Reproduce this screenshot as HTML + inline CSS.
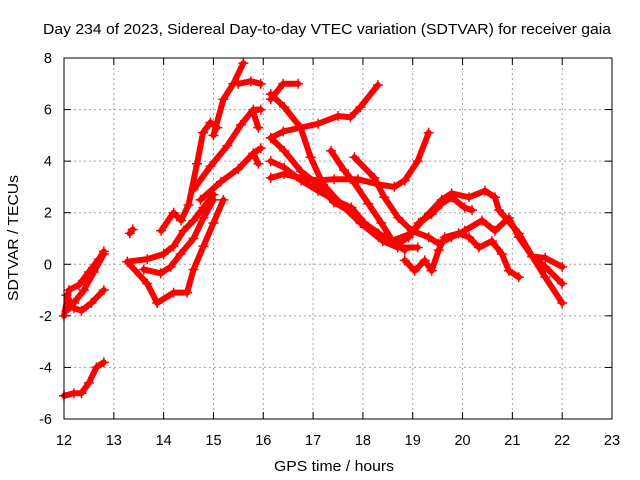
<!DOCTYPE html>
<html><head><meta charset="utf-8"><style>
body{margin:0;background:#fff}
svg{display:block;font-family:"Liberation Sans",sans-serif}
</style></head><body>
<svg id="chart" width="640" height="480">
<text x="327" y="34" font-size="15" text-anchor="middle" textLength="568" lengthAdjust="spacingAndGlyphs">Day 234 of 2023, Sidereal Day-to-day VTEC variation (SDTVAR) for receiver gaia</text>
<text x="334" y="471" font-size="15" text-anchor="middle" textLength="120" lengthAdjust="spacingAndGlyphs">GPS time / hours</text>
<text transform="translate(18,238) rotate(-90)" font-size="15" text-anchor="middle" textLength="126" lengthAdjust="spacingAndGlyphs">SDTVAR / TECUs</text>
<g id="grid"></g>
<g id="ticks"></g>
<g id="marks"></g>
<rect x="64" y="58" width="548" height="361" fill="none" stroke="#000" stroke-width="1"/>
</svg>
<script>
const xTicks=[12,13,14,15,16,17,18,19,20,21,22,23];
const yTicks=[-6,-4,-2,0,2,4,6,8];
const s1=[[12.0,-5.1],[12.2,-5.0],[12.35,-5.0],[12.5,-4.6],[12.65,-4.0],[12.8,-3.8]];
const s2=[[12.05,-1.8],[12.2,-1.5],[12.4,-1.0],[12.6,-0.3],[12.8,0.4]];
const s3=[[12.05,-1.2],[12.2,-1.7],[12.35,-1.8],[12.55,-1.5],[12.8,-1.0]];
const s4=[[12.0,-2.0],[12.1,-1.0],[12.3,-0.8],[12.5,-0.3],[12.7,0.2],[12.8,0.5]];
const s5=[[13.32,1.2],[13.38,1.35]];
const s6=[[13.95,1.3],[14.2,2.0],[14.35,1.7],[14.5,2.3],[14.67,3.9],[14.79,5.1],[14.94,5.5],[15.08,5.3]];
const s7=[[15.0,5.0],[15.2,6.4],[15.4,7.0],[15.6,7.8]];
const s8=[[15.5,7.0],[15.75,7.1],[15.95,7.0]];
const s9=[[14.6,2.9],[14.94,3.8],[15.28,4.6],[15.55,5.4],[15.8,6.0],[15.95,6.0]];
const s10=[[15.8,5.9],[15.9,5.3]];
const s11=[[14.74,2.5],[15.15,3.2],[15.5,3.7],[15.8,4.3],[15.95,4.5]];
const s12=[[15.8,4.3],[15.9,3.9]];
const s13=[[13.27,0.1],[13.67,-0.75],[13.87,-1.5],[14.2,-1.1],[14.47,-1.1],[14.6,-0.2],[14.8,0.7],[15.0,1.6],[15.2,2.5]];
const s14=[[13.27,0.1],[13.67,0.2],[14.0,0.4],[14.2,0.7],[14.4,1.3],[14.6,1.7],[14.8,2.2],[15.0,2.7]];
const s15=[[13.6,-0.2],[13.94,-0.35],[14.14,-0.1],[14.34,0.4],[14.6,1.0],[14.8,1.8],[15.0,2.5]];
const s16=[[16.15,6.4],[16.4,7.0],[16.7,7.0]];
const s17=[[16.15,6.6],[16.42,6.1],[16.75,5.3],[16.95,4.15],[17.2,3.1],[17.55,2.35],[17.95,1.6],[18.4,0.9],[18.7,0.65],[19.1,0.65]];
const s18=[[16.15,4.9],[16.4,5.15],[16.75,5.3],[17.1,5.45],[17.5,5.75],[17.75,5.7],[17.95,6.1],[18.3,6.95]];
const s19=[[16.15,4.9],[16.42,4.4],[16.76,3.6],[17.1,3.1],[17.42,2.4],[17.7,2.1],[17.97,1.6],[18.31,1.2],[18.57,0.9],[18.98,1.2],[19.24,1.8],[19.58,2.5],[19.78,2.75],[20.13,2.6],[20.45,2.85],[20.65,2.6],[20.73,2.1],[21.13,1.2],[21.4,0.3],[21.66,0.25],[22.0,-0.1]];
const s20=[[16.15,3.35],[16.42,3.5],[16.76,3.35],[17.1,3.25],[17.42,3.3],[17.9,3.3],[18.31,3.1],[18.63,3.0],[18.84,3.25],[19.1,4.0],[19.32,5.1]];
const s21=[[16.15,4.0],[16.42,3.75],[16.76,3.25],[17.1,2.85],[17.42,2.5],[17.77,2.2],[18.03,1.6],[18.43,1.05],[18.71,0.8],[18.92,1.05],[19.12,1.6],[19.38,1.95],[19.58,2.35],[19.78,2.6],[20.04,2.2],[20.19,2.1]];
const s22=[[17.36,4.4],[17.62,3.65],[17.83,3.15],[18.11,2.35],[18.37,1.6],[18.63,0.8],[18.84,0.55]];
const s23=[[17.83,4.15],[18.23,3.35],[18.43,2.6],[18.71,1.8],[18.98,1.3],[19.32,1.05],[19.52,0.8],[19.78,1.05],[20.04,1.3],[20.39,1.7],[20.65,1.3],[20.93,1.8],[21.13,1.05],[21.4,0.3],[21.66,-0.5],[22.0,-1.5]];
const s24=[[18.84,0.15],[19.04,-0.25],[19.24,0.15],[19.38,-0.25],[19.52,0.55],[19.64,1.05],[19.92,1.2],[20.13,1.05],[20.33,0.65],[20.59,0.9],[20.79,0.4],[20.93,-0.25],[21.13,-0.5]];
const s25=[[21.4,0.3],[21.66,-0.1],[22.0,-0.75]];
const seriesList=[s1,s2,s3,s4,s5,s6,s7,s8,s9,s10,s11,s12,s13,s14,s15,s16,s17,s18,s19,s20,s21,s22,s23,s24,s25];

const X0=64,X1=612,Y0=419,Y1=58;
function xs(h){return X0+(h-12)/11*(X1-X0);}
function ys(v){return Y0-(v+6)/14*(Y0-Y1);}
const NS="http://www.w3.org/2000/svg";
function mk(t,a,p){const e=document.createElementNS(NS,t);for(const k in a)e.setAttribute(k,a[k]);p.appendChild(e);return e;}
const grid=document.getElementById('grid'),ticks=document.getElementById('ticks'),marks=document.getElementById('marks');
xTicks.forEach(t=>{const x=xs(t);
 if(t>12&&t<23){const g=mk('line',{x1:x,x2:x,y1:Y1,y2:Y0,stroke:'#a0a0a0','stroke-dasharray':'2,3'},grid);
 
 }
 mk('line',{x1:x,x2:x,y1:Y0,y2:Y0-7,stroke:'#000'},ticks);
 mk('line',{x1:x,x2:x,y1:Y1,y2:Y1+7,stroke:'#000'},ticks);
 const l=mk('text',{x:x,y:Y0+26,'font-size':14.5,'text-anchor':'middle'},ticks);l.textContent=t;
 
 
});
yTicks.forEach(t=>{const y=ys(t);
 if(t>-6&&t<8){const g=mk('line',{x1:X0,x2:X1,y1:y,y2:y,stroke:'#a0a0a0','stroke-dasharray':'2,3'},grid);
 
 }
 mk('line',{x1:X0,x2:X0+7,y1:y,y2:y,stroke:'#000'},ticks);
 mk('line',{x1:X1,x2:X1-7,y1:y,y2:y,stroke:'#000'},ticks);
 const l=mk('text',{x:X0-12,y:y+5,'font-size':14.5,'text-anchor':'end'},ticks);l.textContent=t;
 
 
});
seriesList.forEach(s=>{
 const pl=mk('polyline',{points:s.map(p=>xs(p[0])+','+ys(p[1])).join(' '),fill:'none',stroke:'#ff0000','stroke-width':6,'stroke-linejoin':'round','stroke-linecap':'round'},marks);
 
 
 s.forEach(p=>{const x=xs(p[0]),y=ys(p[1]);
  const m=mk('path',{d:`M${x-5},${y}H${x+5}M${x},${y-5}V${y+5}`,stroke:'#ff0000','stroke-width':1.5},marks);
  
  
 });
});
</script>
</body></html>
